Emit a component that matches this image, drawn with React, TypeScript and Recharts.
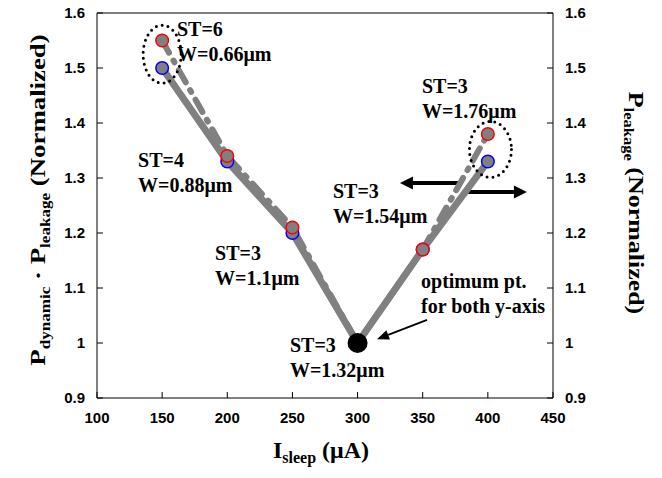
import React from 'react';
import { ComposedChart, Line, Scatter, XAxis, YAxis, ReferenceLine, ReferenceDot } from 'recharts';

// I_sleep (uA) and the two normalized metrics
const sleepCurrent = [150, 200, 250, 300, 350, 400];
const productNorm = [1.5, 1.33, 1.2, 1.0, 1.17, 1.33]; // Pdynamic . Pleakage (left axis)
const leakageNorm = [1.55, 1.34, 1.21, 1.0, 1.17, 1.38]; // Pleakage (right axis)

const xTicks = [100, 150, 200, 250, 300, 350, 400, 450];
const yTicks = [0.9, 1, 1.1, 1.2, 1.3, 1.4, 1.5, 1.6];

const optimum = { x: 300, y: 1.0 };

// text callouts, anchored at the first line's baseline (data units)
const callouts = [
  { x: 161.4, y: 1.558, lines: ['ST=6', 'W=0.66\u03bcm'] },
  { x: 131.5, y: 1.32, lines: ['ST=4', 'W=0.88\u03bcm'] },
  { x: 190.6, y: 1.151, lines: ['ST=3', 'W=1.1\u03bcm'] },
  { x: 248.1, y: 0.984, lines: ['ST=3', 'W=1.32\u03bcm'] },
  { x: 349.4, y: 1.455, lines: ['ST=3', 'W=1.76\u03bcm'] },
  { x: 281.1, y: 1.264, lines: ['ST=3', 'W=1.54\u03bcm'] },
  { x: 348.7, y: 1.1, lines: ['optimum pt.', 'for both y-axis'] },
];

// dotted rings around the ST=6 and ST=3/1.76 pairs
const rings = [
  { x: 150, y: 1.525, rx: 19, ry: 29 },
  { x: 402, y: 1.352, rx: 21, ry: 28 },
];

const axisArrows = [
  { from: { x: 378.6, y: 1.291 }, to: { x: 332.5, y: 1.291 } },
  { from: { x: 384.8, y: 1.2745 }, to: { x: 430, y: 1.2745 } },
];
const pointer = { from: { x: 353.3, y: 1.042 }, to: { x: 314.9, y: 1.007 } };

const data = sleepCurrent.map((x, i) => ({ x, product: productNorm[i], leakage: leakageNorm[i] }));

const serif = '"Liberation Serif", "Times New Roman", serif';
const sans = '"Liberation Sans", Arial, sans-serif';
const tickStyle = { fill: '#000', fontSize: 15, fontWeight: 'bold', fontFamily: sans };

const arrow = (head: number, half: number, width: number) => (p: any) => {
  const { x1, y1, x2, y2 } = p;
  const dx = x2 - x1;
  const dy = y2 - y1;
  const len = Math.hypot(dx, dy) || 1;
  const ux = dx / len;
  const uy = dy / len;
  const bx = x2 - ux * head;
  const by = y2 - uy * head;
  const nx = -uy;
  const ny = ux;
  return (
    <g>
      <line x1={x1} y1={y1} x2={bx} y2={by} stroke="#000" strokeWidth={width} />
      <polygon
        points={`${x2},${y2} ${bx + nx * half},${by + ny * half} ${bx - nx * half},${by - ny * half}`}
        fill="#000"
      />
    </g>
  );
};

const marker = (color: string) => (p: any) => (
  <circle cx={p.cx} cy={p.cy} r={6.3} fill="#808080" stroke={color} strokeWidth={1.5} />
);

export default function App() {
  return (
    <div style={{ position: 'absolute', left: 0, top: 0, width: 662, height: 478, background: '#fff' }}>
      <ComposedChart width={662} height={478} data={data} margin={{ top: 13, right: 49, left: 37, bottom: 50 }}>
        <XAxis
          type="number"
          dataKey="x"
          domain={[100, 450]}
          ticks={xTicks}
          interval={0}
          height={30}
          stroke="#000"
          tickSize={-6}
          tickMargin={20}
          tick={tickStyle}
        />
        <YAxis
          yAxisId="left"
          domain={[0.9, 1.6]}
          ticks={yTicks}
          interval={0}
          width={60}
          stroke="#000"
          tickSize={-6}
          tickMargin={18}
          tick={tickStyle}
        />
        <YAxis
          yAxisId="right"
          orientation="right"
          domain={[0.9, 1.6]}
          ticks={yTicks}
          interval={0}
          width={60}
          stroke="#000"
          tickSize={-6}
          tickMargin={18}
          tick={{ ...tickStyle, textAnchor: 'start' }}
        />
        <ReferenceLine yAxisId="left" y={1.6} stroke="#000" />
        {axisArrows.map((a, i) => (
          <ReferenceLine key={'a' + i} yAxisId="left" segment={[a.from, a.to]} shape={arrow(13, 6.5, 4)} />
        ))}
        <ReferenceLine yAxisId="left" segment={[pointer.from, pointer.to]} shape={arrow(12, 5, 1.8)} />
        {rings.map((r, i) => (
          <ReferenceDot
            key={'r' + i}
            yAxisId="left"
            x={r.x}
            y={r.y}
            shape={(p: any) => (
              <ellipse
                cx={p.cx}
                cy={p.cy}
                rx={r.rx}
                ry={r.ry}
                fill="none"
                stroke="#000"
                strokeWidth={3}
                strokeDasharray="0 6"
                strokeLinecap="round"
              />
            )}
          />
        ))}
        <Line
          yAxisId="left"
          dataKey="product"
          stroke="#808080"
          strokeWidth={7}
          dot={false}
          activeDot={false}
          isAnimationActive={false}
        />
        <Line
          yAxisId="right"
          dataKey="leakage"
          stroke="#808080"
          strokeWidth={6}
          strokeDasharray="14 9 2 9"
          strokeLinecap="round"
          dot={false}
          activeDot={false}
          isAnimationActive={false}
        />
        <Scatter yAxisId="left" dataKey="product" shape={marker('#0000ff')} isAnimationActive={false} />
        <Scatter yAxisId="right" dataKey="leakage" shape={marker('#ff0000')} isAnimationActive={false} />
        <ReferenceDot yAxisId="left" x={optimum.x} y={optimum.y} r={10} fill="#000" stroke="none" isFront />
        {callouts.map((c, i) => (
          <ReferenceDot
            key={'c' + i}
            yAxisId="left"
            x={c.x}
            y={c.y}
            isFront
            shape={(p: any) => (
              <text x={p.cx} y={p.cy} fontFamily={serif} fontWeight="bold" fontSize={20} fill="#000">
                {c.lines.map((t, j) => (
                  <tspan key={j} x={p.cx} dy={j === 0 ? 0 : 25}>
                    {t}
                  </tspan>
                ))}
              </text>
            )}
          />
        ))}
      </ComposedChart>
      <svg
        width={662}
        height={478}
        style={{ position: 'absolute', left: 0, top: 0, pointerEvents: 'none' }}
        fontFamily={serif}
        fontWeight="bold"
      >
        <g transform="translate(45,200) rotate(-90) scale(1.22,1)">
          <text x={0} y={0} textAnchor="middle" fontSize={22}>
            P<tspan fontSize={14} dy={5}>dynamic</tspan>
            <tspan dy={-5}> {'\u00b7'} P</tspan>
            <tspan fontSize={14} dy={5}>leakage</tspan>
            <tspan dy={-5}> (Normalized)</tspan>
          </text>
        </g>
        <g transform="translate(629,203) rotate(90) scale(1.18,1)">
          <text x={0} y={0} textAnchor="middle" fontSize={22}>
            P<tspan fontSize={14} dy={5}>leakage</tspan>
            <tspan dy={-5}> (Normalized)</tspan>
          </text>
        </g>
        <text x={321} y={458} textAnchor="middle" fontSize={24}>
          I<tspan fontSize={16} dy={5}>sleep</tspan>
          <tspan dy={-5}> ({'\u03bc'}A)</tspan>
        </text>
      </svg>
    </div>
  );
}
